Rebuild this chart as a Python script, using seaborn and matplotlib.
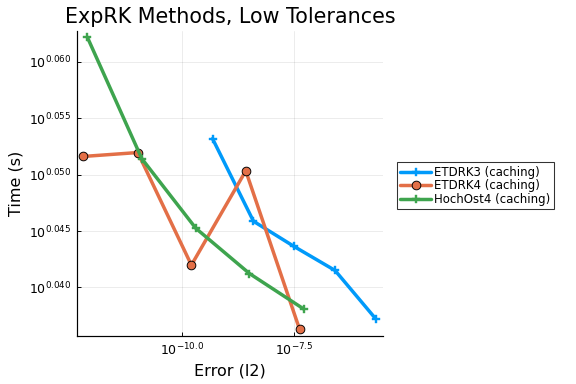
import matplotlib
matplotlib.use("Agg")
import matplotlib.pyplot as plt
import seaborn as sns
import pandas as pd
from matplotlib.ticker import FixedLocator, FixedFormatter, NullLocator

sns.set_theme(style="white")
plt.rcParams['font.family'] = ['DejaVu Sans']
plt.rcParams['text.color'] = 'black'
plt.rcParams['axes.labelcolor'] = 'black'

methods = ["ETDRK3 (caching)", "ETDRK4 (caching)", "HochOst4 (caching)"]
err_etdrk3 = [4.84e-10, 3.95e-9, 3.16e-8, 2.58e-7, 2.07e-6]
time_etdrk3 = [1.1303, 1.1114, 1.1057, 1.1003, 1.0895]
err_etdrk4 = [6.47e-13, 1.05e-11, 1.64e-10, 2.66e-9, 4.18e-8]
time_etdrk4 = [1.1262, 1.1271, 1.1015, 1.1229, 1.0872]
err_hochost4 = [7.96e-13, 1.29e-11, 2.06e-10, 3.22e-9, 5.14e-8]
time_hochost4 = [1.1539, 1.1257, 1.1098, 1.0996, 1.0917]

xtick_vals = [1e-10, 10 ** -7.5]
xtick_labels = [r"$10^{-10.0}$", r"$10^{-7.5}$"]
ytick_vals = [10 ** 0.040, 10 ** 0.045, 10 ** 0.050, 10 ** 0.055, 10 ** 0.060]
ytick_labels = [r"$10^{0.040}$", r"$10^{0.045}$", r"$10^{0.050}$", r"$10^{0.055}$", r"$10^{0.060}$"]

rows = []
for m, ex, tm in zip(methods, [err_etdrk3, err_etdrk4, err_hochost4],
                     [time_etdrk3, time_etdrk4, time_hochost4]):
    for i, (e, t) in enumerate(zip(ex, tm)):
        rows.append({"method": m, "error": e, "time": t, "order": i})
df = pd.DataFrame(rows)

colors = {"ETDRK3 (caching)": "#009AFA", "ETDRK4 (caching)": "#E36F47",
          "HochOst4 (caching)": "#3EA44E"}

fig = plt.figure(figsize=(6, 4), dpi=96)
ax = fig.add_axes([0.133, 0.125, 0.532, 0.795])

for m in methods:
    sub = df[df.method == m]
    if m == "ETDRK4 (caching)":
        mk = dict(marker="o", markersize=6.5, markeredgecolor="black",
                  markeredgewidth=0.7, markerfacecolor=colors[m])
    else:
        mk = dict(marker="P", markersize=6.5, markeredgecolor=colors[m],
                  markeredgewidth=0.3, markerfacecolor=colors[m])
    sns.lineplot(data=sub, x="error", y="time", sort=False, ax=ax,
                 color=colors[m], linewidth=2.6, label=m, **mk)

ax.set_xscale("log")
ax.set_yscale("log")
ax.set_xlim(10 ** -12.34, 10 ** -5.52)
ax.set_ylim(10 ** 0.0357, 10 ** 0.06276)

ax.xaxis.set_major_locator(FixedLocator(xtick_vals))
ax.xaxis.set_major_formatter(FixedFormatter(xtick_labels))
ax.xaxis.set_minor_locator(NullLocator())
ax.yaxis.set_major_locator(FixedLocator(ytick_vals))
ax.yaxis.set_major_formatter(FixedFormatter(ytick_labels))
ax.yaxis.set_minor_locator(NullLocator())

ax.grid(True, color="black", alpha=0.08, linewidth=0.7)
for s in ["top", "right"]:
    ax.spines[s].set_visible(False)
for s in ["left", "bottom"]:
    ax.spines[s].set_color("black")
    ax.spines[s].set_linewidth(0.9)
ax.tick_params(direction="in", length=3, width=0.7, labelsize=9.4, colors="black",
               left=True, bottom=True, pad=4)

ax.set_xlabel("Error (l2)", fontsize=12)
ax.set_ylabel("Time (s)", fontsize=12)
ax.set_title("ExpRK Methods, Low Tolerances", fontsize=15.5, color="black")

leg = ax.legend(loc="center left", bbox_to_anchor=(0.689, 0.516),
                bbox_transform=fig.transFigure, fontsize=8.8, frameon=True,
                fancybox=False, borderpad=0.3, handlelength=2.6,
                labelspacing=0.05, handletextpad=0.25, borderaxespad=0)
leg.get_frame().set_edgecolor("black")
leg.get_frame().set_linewidth(0.8)
for t in leg.get_texts():
    t.set_color("black")

fig.savefig("out.png", dpi=96)
